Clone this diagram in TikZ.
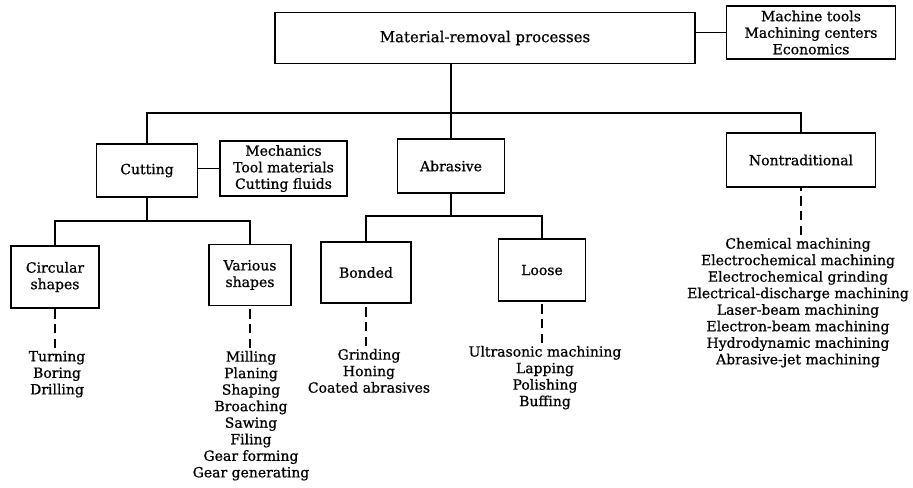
\documentclass[tikz,border=0pt]{standalone}
\usepackage{fontspec}
\setmainfont{DejaVu Serif}[FakeBold=0.8]
\usetikzlibrary{positioning,calc}

\begin{document}
\begin{tikzpicture}[
		x=0.75pt, y=-0.75pt,
		every node/.style={font=\fontsize{10.5}{12.4}\selectfont, align=center, inner sep=1pt},
		box/.style 2 args={draw, line width=1.1pt, minimum width=#1*0.75pt, minimum height=#2*0.75pt},
		link/.style={line width=1.1pt},
		dashlink/.style={line width=1.1pt, dash pattern=on 7pt off 4pt},
		list/.style={anchor=north, inner ysep=2pt}
	]

	\useasboundingbox (0,0) rectangle (913,487);

	\node[box={420}{51}, font=\fontsize{11.2}{13}\selectfont] (mrp) at (485,38) {Material-removal processes};
	\node[box={169}{53}] (mrpx) at (811,32.5) {Machine tools\\Machining centers\\Economics};

	\node[box={101}{53}] (cut) at (147,170.5) {Cutting};
	\node[box={127}{55}] (cutx) at (283.5,168.5) {Mechanics\\Tool materials\\Cutting fluids};
	\node[box={107}{54}] (abr) at (451,166) {Abrasive};
	\node[box={149}{54}] (ntr) at (801,160) {Nontraditional};

	\node[box={88}{62}] (circ) at (55,277) {Circular\\shapes};
	\node[box={82}{61}] (var) at (250,275) {Various\\shapes};
	\node[box={90}{61}] (bond) at (366,272.5) {Bonded};
	\node[box={87}{62}] (loose) at (542,270) {Loose};

	\node[list] (circl) at (57,348) {Turning\\Boring\\Drilling};
	\node[list] (varl) at (251,348) {Milling\\Planing\\Shaping\\Broaching\\Sawing\\Filing\\Gear forming\\Gear generating};
	\node[list] (bondl) at (369,346) {Grinding\\Honing\\Coated abrasives};
	\node[list] (loosel) at (545,343) {Ultrasonic machining\\Lapping\\Polishing\\Buffing};
	\node[list] (ntrl) at (798,235) {Chemical machining\\Electrochemical machining\\Electrochemical grinding\\Electrical-discharge machining\\Laser-beam machining\\Electron-beam machining\\Hydrodynamic machining\\Abrasive-jet machining};

	\coordinate (bus) at (451,113);
	\coordinate (cutbus) at (148,221);
	\coordinate (abrbus) at (451,216);

	\draw[link] (mrp.east |- mrpx) -- (mrpx);
	\draw[link] (mrp.south -| abr.north) -- (abr);
	\draw[link] (cut) |- (bus) -| (ntr);
	\draw[link] (cut.east |- cutx) -- (cutx);
	\draw[link] (cut) -- (cut |- cutbus);
	\draw[link] (circ) |- (cutbus) -| (var);
	\draw[link] (abr) -- (abr |- abrbus);
	\draw[link] (bond) |- (abrbus) -| (loose);

	\draw[dashlink] (circ.south |- circl.north) -- (circ.south);
	\draw[dashlink] (var.south |- varl.north) -- (var.south);
	\draw[dashlink] (bond.south |- bondl.north) -- (bond.south);
	\draw[dashlink] (loose.south |- loosel.north) -- (loose.south);
	\draw[dashlink] (ntr.south |- ntrl.north) -- (ntr.south);

\end{tikzpicture}
\end{document}
